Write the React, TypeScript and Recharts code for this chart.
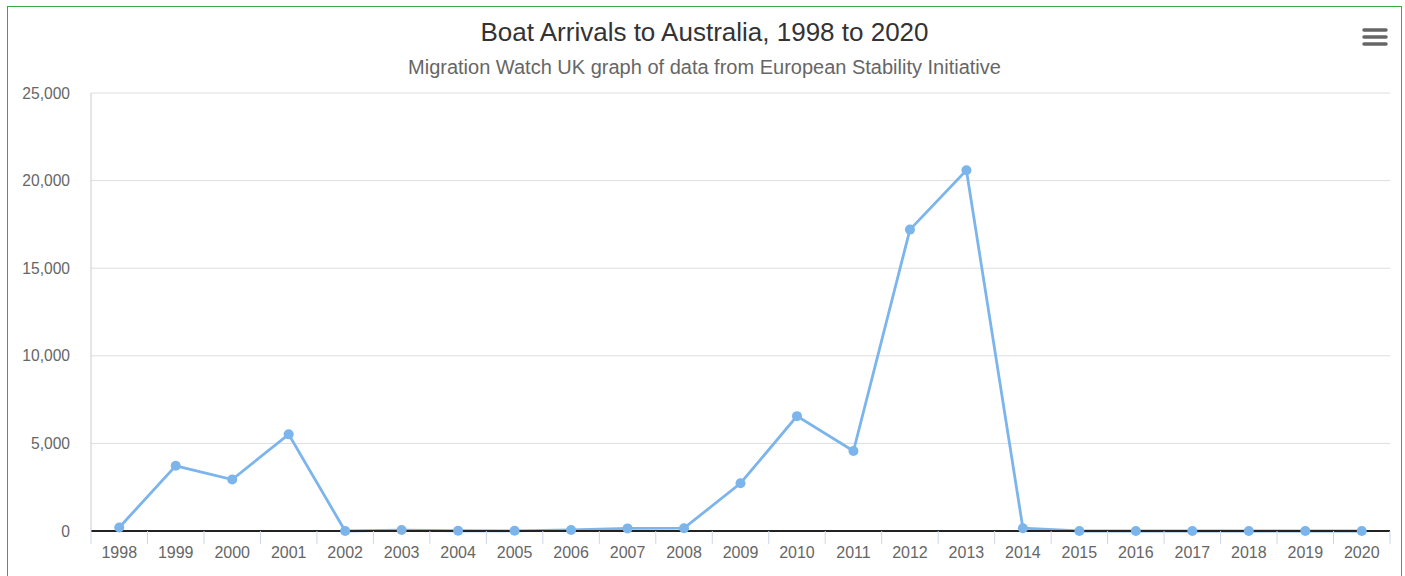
import { LineChart, Line, XAxis, YAxis, CartesianGrid } from 'recharts';

const years = [
    '1998', '1999', '2000', '2001', '2002', '2003', '2004', '2005', '2006', '2007', '2008', '2009',
    '2010', '2011', '2012', '2013', '2014', '2015', '2016', '2017', '2018', '2019', '2020',
];
const arrivals = [
    200, 3721, 2939, 5516, 1, 53, 15, 11, 60, 148, 161, 2726,
    6555, 4565, 17202, 20587, 160, 0, 0, 0, 0, 0, 0,
];
const yTicks = [0, 5000, 10000, 15000, 20000, 25000];

const title = 'Boat Arrivals to Australia, 1998 to 2020';
const subtitle = 'Migration Watch UK graph of data from European Stability Initiative';

const data = years.map((year, i) => ({ year, arrivals: arrivals[i] }));

const font = '"Liberation Sans", Arial, sans-serif';

// year label plus the little separator ticks between categories
const YearTick = (props: any) => {
    const { x, y, payload, index, visibleTicksCount } = props;
    const half = payload.offset ?? 0;
    const axisY = y - 16;
    return (
        <g>
            <line x1={x - half} x2={x - half} y1={axisY} y2={axisY + 13} stroke="#ccd6eb" />
            {index === visibleTicksCount - 1 && (
                <line x1={x + half} x2={x + half} y1={axisY} y2={axisY + 13} stroke="#ccd6eb" />
            )}
            <text x={x} y={y} dy="0.71em" textAnchor="middle" fill="#666" fontSize={16} fontFamily={font}>
                {payload.value}
            </text>
        </g>
    );
};

const MenuIcon = () => (
    <svg width={28} height={24} style={{ position: 'absolute', left: 1353, top: 18 }}>
        {[5, 12, 19].map((y) => (
            <line key={y} x1={3} x2={25} y1={y} y2={y} stroke="#666" strokeWidth={3.5} strokeLinecap="round" />
        ))}
    </svg>
);

export default function App() {
    return (
        <div
            style={{
                position: 'absolute',
                left: 7,
                top: 6,
                width: 1395,
                height: 600,
                border: '1px solid #3aa845',
                boxSizing: 'border-box',
                background: '#fff',
                fontFamily: font,
            }}
        >
            <div style={{ position: 'absolute', left: 0, width: 1393, top: 9, textAlign: 'center', fontSize: 26, lineHeight: '32px', color: '#333' }}>
                {title}
            </div>
            <div style={{ position: 'absolute', left: 0, width: 1393, top: 48, textAlign: 'center', fontSize: 20, lineHeight: '24px', color: '#666' }}>
                {subtitle}
            </div>
            <MenuIcon />
            <div style={{ position: 'absolute', left: 0, top: 0 }}>
                <LineChart width={1393} height={580} data={data} margin={{ top: 86, right: 11, left: 0, bottom: 16 }}>
                    <CartesianGrid vertical={false} stroke="#dedede" />
                    <XAxis
                        dataKey="year"
                        scale="band"
                        interval={0}
                        tickSize={0}
                        tickMargin={16}
                        height={40}
                        tickLine={false}
                        axisLine={{ stroke: '#222', strokeWidth: 2 }}
                        tick={<YearTick />}
                    />
                    <YAxis
                        width={83}
                        domain={[0, 25000]}
                        ticks={yTicks}
                        tickLine={false}
                        tickMargin={15}
                        axisLine={{ stroke: '#ccc' }}
                        tick={{ fill: '#666', fontSize: 15.6, fontFamily: font }}
                        tickFormatter={(v: number) => v.toLocaleString('en-US')}
                    />
                    <YAxis yAxisId="border" orientation="right" width={0} tick={false} tickLine={false} axisLine={{ stroke: '#ccc' }} />
                    <Line
                        type="linear"
                        dataKey="arrivals"
                        stroke="#7cb5ec"
                        strokeWidth={2.8}
                        dot={{ r: 5, fill: '#7cb5ec', stroke: '#7cb5ec', strokeWidth: 0 }}
                        isAnimationActive={false}
                    />
                </LineChart>
            </div>
        </div>
    );
}
